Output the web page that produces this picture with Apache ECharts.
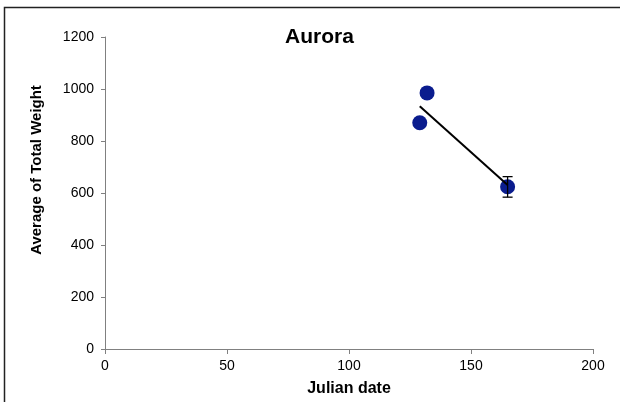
<!DOCTYPE html>
<html>
<head>
<meta charset="utf-8">
<script src="https://cdn.jsdelivr.net/npm/echarts@6/dist/echarts.min.js"></script>
<style>
  html, body { margin: 0; padding: 0; background: #fff; }
  #chart { width: 620px; height: 402px; }
</style>
</head>
<body>
<div id="chart"></div>
<script>
// julian date / average weight
const julianDates = [129, 132, 165]
const avgWeights = [870, 985, 624]
// error bar (only the last one shows outside its marker)
const errLow = [null, null, 584]
const errHigh = [null, null, 663]
// linear trend line ends
const trendX = [129, 165]
const trendY = [934, 631]

const xTicks = [0, 50, 100, 150, 200]
const yTicks = [0, 200, 400, 600, 800, 1000, 1200]

const font = 'Liberation Sans, Arial, sans-serif'

const points = julianDates.map((d, i) => [d, avgWeights[i]])
const errData = julianDates
  .map((d, i) => [d, errLow[i], errHigh[i]])
  .filter(e => e[1] != null)
const trendData = trendX.map((x, i) => [x, trendY[i]])

const chart = echarts.init(document.getElementById('chart'))

chart.setOption({
  animation: false,
  textStyle: { fontFamily: font },
  title: {
    text: 'Aurora',
    left: 280,
    top: 22,
    textStyle: { fontSize: 21, fontWeight: 'bold', color: '#000', fontFamily: font }
  },
  grid: { left: 105, right: 27, top: 37, bottom: 48 },
  xAxis: {
    type: 'value',
    min: xTicks[0],
    max: xTicks[xTicks.length - 1],
    interval: 50,
    name: 'Julian date',
    nameLocation: 'middle',
    nameGap: 32,
    nameTextStyle: { fontSize: 16, fontWeight: 'bold', color: '#000', fontFamily: font },
    axisLine: { onZero: false, lineStyle: { color: '#808080', width: 1 } },
    axisTick: { show: true, length: 5, inside: false, lineStyle: { color: '#808080' } },
    axisLabel: { fontSize: 14, color: '#000', margin: 10, fontFamily: font, formatter: v => String(v) },
    splitLine: { show: false }
  },
  yAxis: {
    type: 'value',
    min: yTicks[0],
    max: yTicks[yTicks.length - 1],
    interval: 200,
    axisLine: { show: true, lineStyle: { color: '#808080', width: 1 } },
    axisTick: { show: true, length: 4, inside: false, lineStyle: { color: '#808080' } },
    axisLabel: { fontSize: 14, color: '#000', margin: 11, fontFamily: font, formatter: v => String(v) },
    splitLine: { show: false }
  },
  graphic: [
    {
      type: 'rect',
      shape: { x: 4.5, y: 7.5, width: 700, height: 500 },
      style: { fill: 'none', stroke: '#222', lineWidth: 1.5 },
      silent: true
    },
    {
      type: 'text',
      x: 37,
      y: 170,
      rotation: Math.PI / 2,
      style: {
        text: 'Average of Total Weight',
        fontSize: 15,
        fontWeight: 'bold',
        fontFamily: font,
        fill: '#000',
        textAlign: 'center',
        textVerticalAlign: 'middle'
      }
    }
  ],
  series: [
    {
      type: 'scatter',
      data: points,
      symbol: 'circle',
      symbolSize: 15,
      itemStyle: { color: '#0A1C8E', opacity: 1 },
      z: 2
    },
    {
      // error bars
      type: 'custom',
      data: errData,
      z: 3,
      renderItem: (params, api) => {
        const x = api.value(0)
        const lo = api.coord([x, api.value(1)])
        const hi = api.coord([x, api.value(2)])
        const w = 5
        const st = { stroke: '#000', lineWidth: 1.3 }
        return {
          type: 'group',
          children: [
            { type: 'line', shape: { x1: lo[0], y1: lo[1], x2: hi[0], y2: hi[1] }, style: st },
            { type: 'line', shape: { x1: lo[0] - w, y1: lo[1], x2: lo[0] + w, y2: lo[1] }, style: st },
            { type: 'line', shape: { x1: hi[0] - w, y1: hi[1], x2: hi[0] + w, y2: hi[1] }, style: st }
          ]
        }
      }
    },
    {
      // trend line
      type: 'line',
      data: trendData,
      symbol: 'none',
      lineStyle: { color: '#000', width: 2 },
      z: 4
    }
  ]
})

window.addEventListener('resize', () => chart.resize())
</script>
</body>
</html>
